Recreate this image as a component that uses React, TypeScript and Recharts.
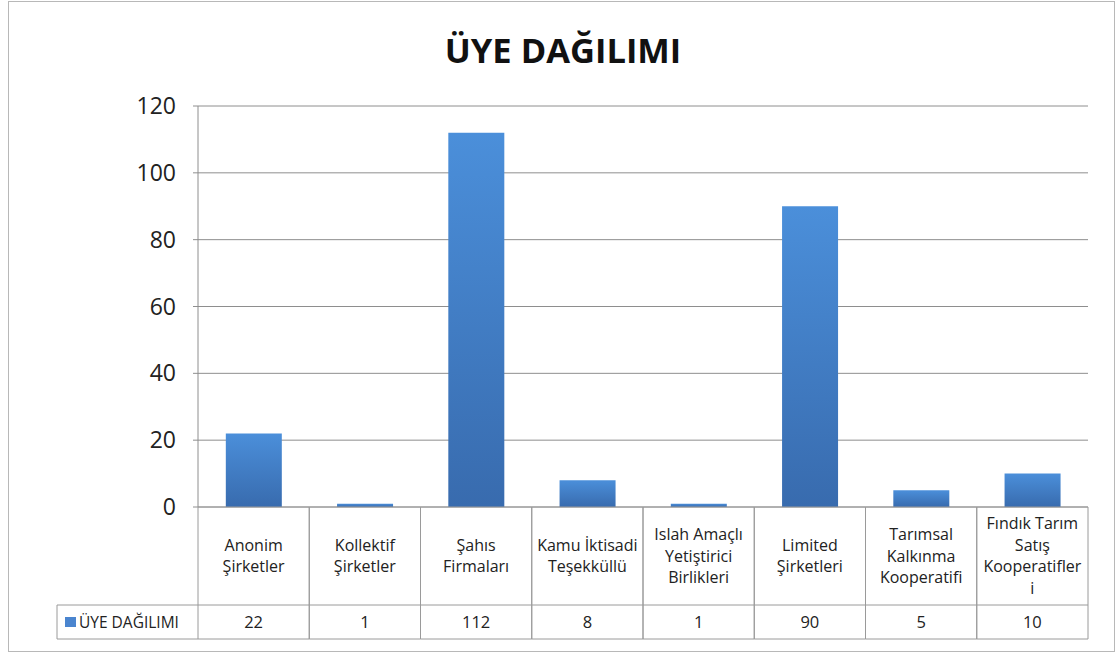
import React from 'react';
import { BarChart, Bar, XAxis, YAxis, CartesianGrid } from 'recharts';

const title = 'ÜYE DAĞILIMI';
const seriesName = 'ÜYE DAĞILIMI';
const categories = [
  'Anonim Şirketler',
  'Kollektif Şirketler',
  'Şahıs Firmaları',
  'Kamu İktisadi Teşekküllü',
  'Islah Amaçlı Yetiştirici Birlikleri',
  'Limited Şirketleri',
  'Tarımsal Kalkınma Kooperatifi',
  'Fındık Tarım Satış Kooperatifleri',
];
const categoryLines = [
  ['Anonim', 'Şirketler'],
  ['Kollektif', 'Şirketler'],
  ['Şahıs', 'Firmaları'],
  ['Kamu İktisadi', 'Teşekküllü'],
  ['Islah Amaçlı', 'Yetiştirici', 'Birlikleri'],
  ['Limited', 'Şirketleri'],
  ['Tarımsal', 'Kalkınma', 'Kooperatifi'],
  ['Fındık Tarım', 'Satış', 'Kooperatifler', 'i'],
];
const values = [22, 1, 112, 8, 1, 90, 5, 10];
const yTicks = [0, 20, 40, 60, 80, 100, 120];

const data = categories.map((c, i) => ({ name: c, value: values[i] }));

const W = 1117;
const H = 652;
const M = { top: 106, right: 29, bottom: 0, left: 0 };
const Y_AXIS_W = 198;
const X_AXIS_H = 145;
const BAND = (W - M.left - M.right - Y_AXIS_W) / categories.length;
const ROW1 = 98;
const ROW2 = 34;
const LEGEND_W = 141;
const LINE_H = 21.7;
const FONT = '"Open Sans", "Noto Sans", sans-serif';
const TABLE_STROKE = '#9a9a9a';

const TableTick = (props: any) => {
  const { x, y, index } = props;
  const left = x - BAND / 2;
  const right = x + BAND / 2;
  const lines = categoryLines[index] || [];
  const n = lines.length;
  const firstBase = y + ROW1 / 2 - ((n - 1) * LINE_H) / 2 + 5.5;
  return (
    <g>
      <line x1={left} x2={right} y1={y} y2={y} stroke={TABLE_STROKE} />
      <line x1={left} x2={right} y1={y + ROW1} y2={y + ROW1} stroke={TABLE_STROKE} />
      <line x1={left} x2={right} y1={y + ROW1 + ROW2} y2={y + ROW1 + ROW2} stroke={TABLE_STROKE} />
      <line x1={left} x2={left} y1={y} y2={y + ROW1 + ROW2} stroke={TABLE_STROKE} />
      <line x1={right} x2={right} y1={y} y2={y + ROW1 + ROW2} stroke={TABLE_STROKE} />
      {lines.map((l, i) => (
        <text
          key={i}
          x={x}
          y={firstBase + i * LINE_H}
          textAnchor="middle"
          fontFamily={FONT}
          fontSize={16}
          fill="#222"
        >
          {l}
        </text>
      ))}
      <text
        x={x}
        y={y + ROW1 + ROW2 / 2 + 6}
        textAnchor="middle"
        fontFamily={FONT}
        fontSize={16.5}
        fill="#222"
      >
        {values[index]}
      </text>
      {index === 0 && (
        <g>
          <line x1={left - LEGEND_W} x2={left} y1={y + ROW1} y2={y + ROW1} stroke={TABLE_STROKE} />
          <line x1={left - LEGEND_W} x2={left} y1={y + ROW1 + ROW2} y2={y + ROW1 + ROW2} stroke={TABLE_STROKE} />
          <line x1={left - LEGEND_W} x2={left - LEGEND_W} y1={y + ROW1} y2={y + ROW1 + ROW2} stroke={TABLE_STROKE} />
          <rect x={left - LEGEND_W + 8} y={y + ROW1 + 12} width={11} height={10} fill="#4a85cf" />
          <text
            x={left - LEGEND_W + 22}
            y={y + ROW1 + 23}
            fontFamily={FONT}
            fontSize={15.5}
            fill="#222"
          >
            {seriesName}
          </text>
        </g>
      )}
    </g>
  );
};

export default function App() {
  return (
    <div style={{ position: 'absolute', left: 0, top: 0, width: W, height: H, background: '#fff' }}>
      <div
        style={{
          position: 'absolute',
          left: 8,
          top: 1,
          width: 1107,
          height: 651,
          border: '1px solid #b8b8b8',
          boxSizing: 'border-box',
        }}
      />
      <svg
        width={W}
        height={H}
        style={{ position: 'absolute', left: 0, top: 0, pointerEvents: 'none' }}
      >
        <text
          x={563}
          y={63}
          textAnchor="middle"
          fontFamily={FONT}
          fontWeight="bold"
          fontSize={34.5}
          fill="#111"
        >
          {title}
        </text>
      </svg>
      <div style={{ position: 'absolute', left: 0, top: 0 }}>
        <BarChart width={W} height={H} data={data} margin={M} barCategoryGap="25%">
          <defs>
            <linearGradient id="barGrad" x1="0" y1="0" x2="0" y2="1">
              <stop offset="0%" stopColor="#4b8fda" />
              <stop offset="100%" stopColor="#386bae" />
            </linearGradient>
          </defs>
          <CartesianGrid vertical={false} stroke="#8e8e8e" />
          <YAxis
            width={Y_AXIS_W}
            domain={[0, 120]}
            ticks={yTicks}
            interval={0}
            tickSize={5}
            tickMargin={17}
            axisLine={{ stroke: '#8e8e8e' }}
            tickLine={{ stroke: '#8e8e8e' }}
            tick={{ fontFamily: FONT, fontSize: 23, fill: '#222' }}
          />
          <XAxis
            dataKey="name"
            height={X_AXIS_H}
            interval={0}
            tickSize={0}
            tickMargin={0}
            axisLine={false}
            tickLine={false}
            tick={<TableTick />}
          />
          <Bar dataKey="value" fill="url(#barGrad)" isAnimationActive={false} />
        </BarChart>
      </div>
    </div>
  );
}
